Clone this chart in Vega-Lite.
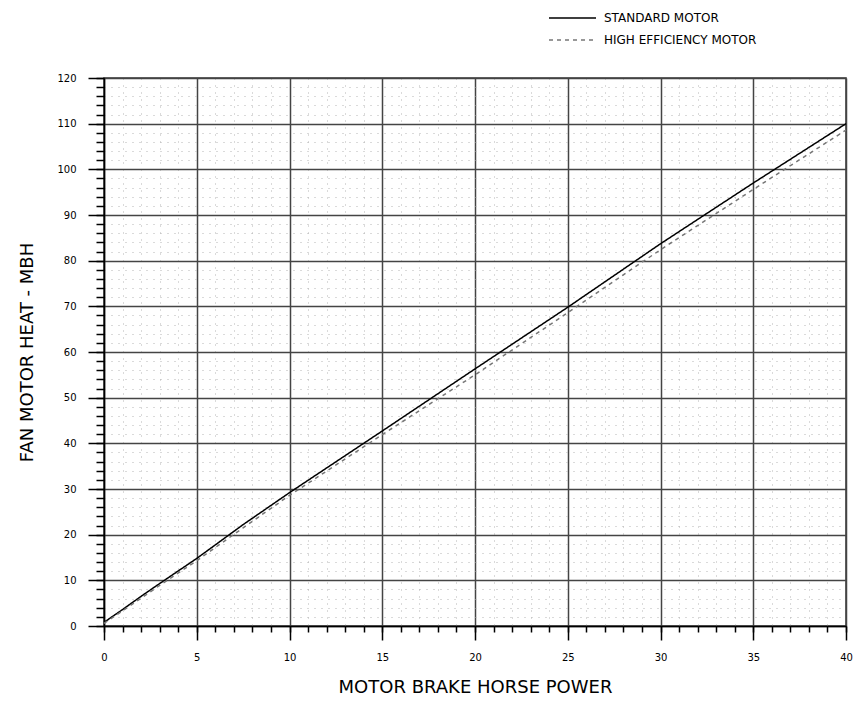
{
  "$schema": "https://vega.github.io/schema/vega-lite/v6.json",
  "width": 742,
  "height": 548,
  "autosize": {"type": "none"},
  "padding": {"left": 104, "top": 78, "right": 8, "bottom": 77},
  "background": "white",
  "config": {
    "view": {"stroke": "#333", "strokeWidth": 1.5},
    "axis": {"labelFont": "DejaVu Sans", "titleFont": "DejaVu Sans", "labelColor": "#000", "titleColor": "#000"},
    "legend": {"labelFont": "DejaVu Sans"}
  },
  "data": {
    "values": [
      {"hp": 0, "heat": 0.8, "motor": "STANDARD MOTOR"},
      {"hp": 1, "heat": 3.6, "motor": "STANDARD MOTOR"},
      {"hp": 2, "heat": 6.5, "motor": "STANDARD MOTOR"},
      {"hp": 3, "heat": 9.3, "motor": "STANDARD MOTOR"},
      {"hp": 5, "heat": 14.8, "motor": "STANDARD MOTOR"},
      {"hp": 7.5, "heat": 22.2, "motor": "STANDARD MOTOR"},
      {"hp": 10, "heat": 29.2, "motor": "STANDARD MOTOR"},
      {"hp": 15, "heat": 42.7, "motor": "STANDARD MOTOR"},
      {"hp": 20, "heat": 56.3, "motor": "STANDARD MOTOR"},
      {"hp": 25, "heat": 69.8, "motor": "STANDARD MOTOR"},
      {"hp": 30, "heat": 83.7, "motor": "STANDARD MOTOR"},
      {"hp": 35, "heat": 97.0, "motor": "STANDARD MOTOR"},
      {"hp": 40, "heat": 110.0, "motor": "STANDARD MOTOR"},
      {"hp": 0, "heat": 0.6, "motor": "HIGH EFFICIENCY MOTOR"},
      {"hp": 1, "heat": 3.3, "motor": "HIGH EFFICIENCY MOTOR"},
      {"hp": 2, "heat": 6.1, "motor": "HIGH EFFICIENCY MOTOR"},
      {"hp": 3, "heat": 8.9, "motor": "HIGH EFFICIENCY MOTOR"},
      {"hp": 5, "heat": 14.3, "motor": "HIGH EFFICIENCY MOTOR"},
      {"hp": 7.5, "heat": 21.5, "motor": "HIGH EFFICIENCY MOTOR"},
      {"hp": 10, "heat": 28.6, "motor": "HIGH EFFICIENCY MOTOR"},
      {"hp": 15, "heat": 41.9, "motor": "HIGH EFFICIENCY MOTOR"},
      {"hp": 20, "heat": 55.0, "motor": "HIGH EFFICIENCY MOTOR"},
      {"hp": 25, "heat": 68.6, "motor": "HIGH EFFICIENCY MOTOR"},
      {"hp": 30, "heat": 82.4, "motor": "HIGH EFFICIENCY MOTOR"},
      {"hp": 35, "heat": 95.6, "motor": "HIGH EFFICIENCY MOTOR"},
      {"hp": 40, "heat": 108.6, "motor": "HIGH EFFICIENCY MOTOR"}
    ]
  },
  "resolve": {"axis": {"x": "independent", "y": "independent"}},
  "layer": [
    {
      "mark": {"type": "line", "opacity": 0},
      "encoding": {
        "x": {
          "field": "hp", "type": "quantitative",
          "scale": {"domain": [0, 40], "nice": false},
          "axis": {
            "orient": "bottom",
            "values": [0,1,2,3,4,5,6,7,8,9,10,11,12,13,14,15,16,17,18,19,20,21,22,23,24,25,26,27,28,29,30,31,32,33,34,35,36,37,38,39,40],
            "labels": false, "title": null, "domain": false,
            "tickSize": 6, "tickColor": "#000", "tickWidth": 1.5,
            "grid": true, "gridColor": "#b5b5b5", "gridDash": [1, 6], "gridWidth": 1
          }
        },
        "y": {
          "field": "heat", "type": "quantitative",
          "scale": {"domain": [0, 120], "nice": false},
          "axis": {
            "orient": "left",
            "values": [0,2,4,6,8,10,12,14,16,18,20,22,24,26,28,30,32,34,36,38,40,42,44,46,48,50,52,54,56,58,60,62,64,66,68,70,72,74,76,78,80,82,84,86,88,90,92,94,96,98,100,102,104,106,108,110,112,114,116,118,120],
            "labels": false, "title": null, "domain": false,
            "tickSize": 8, "tickColor": "#000", "tickWidth": 1.5,
            "grid": true, "gridColor": "#b5b5b5", "gridDash": [1, 6], "gridWidth": 1
          }
        },
        "detail": {"field": "motor"}
      }
    },
    {
      "mark": {"type": "line", "strokeWidth": 1.5},
      "encoding": {
        "x": {
          "field": "hp", "type": "quantitative",
          "scale": {"domain": [0, 40], "nice": false},
          "axis": {
            "orient": "bottom",
            "values": [0,5,10,15,20,25,30,35,40],
            "title": "MOTOR BRAKE HORSE POWER",
            "titleFontSize": 18, "titleFontWeight": "normal", "titlePadding": 16,
            "labelFontSize": 10, "labelPadding": 12, "labelFlush": false,
            "domainColor": "#000", "domainWidth": 1.5,
            "tickSize": 14, "tickColor": "#000", "tickWidth": 1.5,
            "grid": true, "gridColor": "#444", "gridWidth": 1.5
          }
        },
        "y": {
          "field": "heat", "type": "quantitative",
          "scale": {"domain": [0, 120], "nice": false},
          "axis": {
            "orient": "left",
            "values": [0,10,20,30,40,50,60,70,80,90,100,110,120],
            "title": "FAN MOTOR HEAT - MBH",
            "titleFontSize": 18, "titleFontWeight": "normal", "titlePadding": 20,
            "labelFontSize": 10, "labelPadding": 12, "labelFlush": false,
            "domainColor": "#000", "domainWidth": 1.5,
            "tickSize": 16, "tickColor": "#000", "tickWidth": 1.5,
            "grid": true, "gridColor": "#444", "gridWidth": 1.5
          }
        },
        "color": {
          "field": "motor", "type": "nominal",
          "scale": {"domain": ["STANDARD MOTOR", "HIGH EFFICIENCY MOTOR"], "range": ["#000000", "#777777"]},
          "legend": {
            "orient": "none", "legendX": 444, "legendY": -71, "title": null,
            "symbolType": "stroke", "symbolSize": 2209, "symbolStrokeWidth": 1.5,
            "labelFontSize": 12, "labelColor": "#000", "labelOffset": 7, "rowPadding": 0, "clipHeight": 22
          }
        },
        "strokeDash": {
          "field": "motor", "type": "nominal",
          "scale": {"domain": ["STANDARD MOTOR", "HIGH EFFICIENCY MOTOR"], "range": [[1, 0], [4, 4]]},
          "legend": {
            "orient": "none", "legendX": 444, "legendY": -71, "title": null,
            "symbolType": "stroke", "symbolSize": 2209, "symbolStrokeWidth": 1.5,
            "labelFontSize": 12, "labelColor": "#000", "labelOffset": 7, "rowPadding": 0, "clipHeight": 22
          }
        }
      }
    }
  ]
}
